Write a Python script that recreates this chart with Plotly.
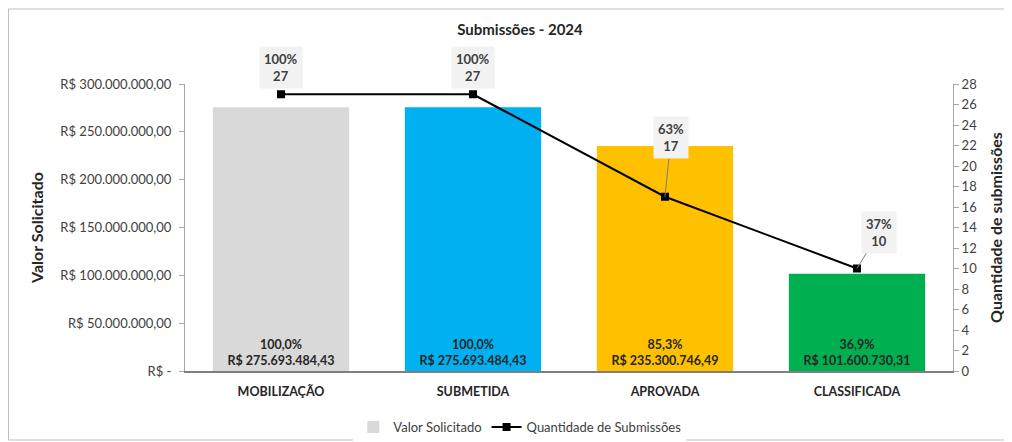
import plotly.graph_objects as go

categories = ["MOBILIZAÇÃO", "SUBMETIDA", "APROVADA", "CLASSIFICADA"]
valor_solicitado = [275693484.43, 275693484.43, 235300746.49, 101600730.31]
valor_labels = ["R$ 275.693.484,43", "R$ 275.693.484,43", "R$ 235.300.746,49", "R$ 101.600.730,31"]
valor_pct = ["100,0%", "100,0%", "85,3%", "36,9%"]
quantidade = [27, 27, 17, 10]
quantidade_pct = ["100%", "100%", "63%", "37%"]
left_tickvals = [0, 50e6, 100e6, 150e6, 200e6, 250e6, 300e6]
left_ticktext = ["R$ -", "R$ 50.000.000,00", "R$ 100.000.000,00", "R$ 150.000.000,00",
                 "R$ 200.000.000,00", "R$ 250.000.000,00", "R$ 300.000.000,00"]

bar_colors = ["#d9d9d9", "#00b0f0", "#ffc000", "#00b050"]
FONT = "Lato"

W, H = 1004, 434
L, R, T, B = 177, 59, 76, 71
PW, PH = W - L - R, H - T - B

fig = go.Figure()
fig.add_trace(go.Bar(
    x=categories, y=valor_solicitado, name="Valor Solicitado",
    marker=dict(color=bar_colors, line=dict(width=0)),
    text=[f"<b>{p}<br>{v}</b>" for p, v in zip(valor_pct, valor_labels)],
    textposition="inside", insidetextanchor="start",
    textfont=dict(family=FONT, size=12.5, color="#262626"),
    width=0.71, yaxis="y",
))
fig.add_trace(go.Scatter(
    x=categories, y=quantidade, name="Quantidade de Submissões",
    mode="lines+markers", line=dict(color="#000000", width=2),
    marker=dict(symbol="square", size=8, color="#000000"),
    yaxis="y2",
))

# label offsets (styling)
ax_off = [0, 0, 6, 22]
ay_off = [-27, -27, -59, -36]
show_arrow = [False, False, True, True]
for i, (c, q, p) in enumerate(zip(categories, quantidade, quantidade_pct)):
    fig.add_annotation(
        x=c, y=q, xref="x", yref="y2",
        text=f"<b>{p}<br>{q}</b>",
        showarrow=True, arrowhead=0, arrowwidth=1,
        arrowcolor="#7f7f7f" if show_arrow[i] else "rgba(0,0,0,0)",
        ax=ax_off[i], ay=ay_off[i],
        bgcolor="#f2f2f2", borderpad=4,
        font=dict(family=FONT, size=13, color="#404040"),
    )

fig.add_shape(type="rect", xref="paper", yref="paper",
              x0=(0.5 - L) / PW, x1=(1001 - L) / PW,
              y0=(T + PH - 432) / PH, y1=(T + PH - 1) / PH,
              line=dict(color="#bfbfbf", width=1), layer="below")

fig.update_layout(
    width=W, height=H,
    margin=dict(l=L, r=R, t=T, b=B, autoexpand=False),
    paper_bgcolor="white", plot_bgcolor="white",
    font=dict(family=FONT, color="#404040"),
    title=dict(text="<b>Submissões - 2024</b>", x=512 / W, xanchor="center",
               y=1 - 22 / H, yanchor="middle",
               font=dict(family=FONT, size=15, color="#262626")),
    bargap=0.29,
    showlegend=True,
    legend=dict(orientation="h", x=0.436, xanchor="center", y=-0.195, yanchor="middle",
                font=dict(family=FONT, size=13, color="#404040"),
                itemwidth=30, traceorder="normal"),
    xaxis=dict(showline=True, linecolor="#7f7f7f", linewidth=1.5, ticks="",
               automargin=False, ticklabelstandoff=8,
               tickfont=dict(family=FONT, size=12.5, color="#262626"),
               tickprefix="<b>", ticksuffix="</b>", showgrid=False),
    yaxis=dict(range=[0, 300e6], tickvals=left_tickvals, ticktext=left_ticktext,
               showline=True, linecolor="#a6a6a6", ticks="outside", ticklen=5,
               tickcolor="#a6a6a6", showgrid=False, zeroline=False, automargin=False,
               ticklabelstandoff=5,
               tickfont=dict(family=FONT, size=13, color="#404040"),
               title=dict(text="<b>Valor Solicitado</b>", standoff=12,
                          font=dict(family=FONT, size=16, color="#262626"))),
    yaxis2=dict(range=[0, 28], dtick=2, overlaying="y", side="right",
                showline=True, linecolor="#a6a6a6", ticks="outside", ticklen=5,
                tickcolor="#a6a6a6", showgrid=False, zeroline=False, automargin=False,
                tickfont=dict(family=FONT, size=13, color="#404040"),
                title=dict(text="<b>Quantidade de submissões</b>", standoff=14,
                           font=dict(family=FONT, size=16, color="#262626"))),
)

fig.write_html("out.html")
